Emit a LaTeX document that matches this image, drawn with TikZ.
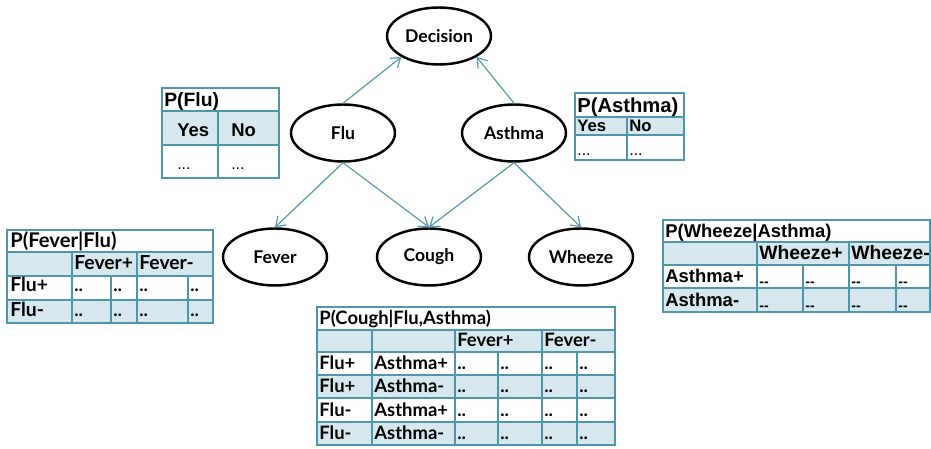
\documentclass[tikz,border=0pt]{standalone}
\usepackage{fontspec}
\setmainfont{Lato}
\newfontfamily\arialfont{Liberation Sans}
\usetikzlibrary{arrows.meta, shapes.geometric}
\definecolor{tabteal}{RGB}{78,150,170}
\definecolor{rowblue}{RGB}{214,232,238}
\definecolor{linkteal}{RGB}{90,155,178}

\begin{document}
\begin{tikzpicture}[x=0.02cm, y=-0.02cm, >={Straight Barb[length=5pt, width=7pt]},
  var/.style={draw, ellipse, line width=1.4pt, minimum width=2.08cm, minimum height=1.14cm,
              inner sep=0pt, font=\bfseries\fontsize{10}{12}\selectfont},
  link/.style={->, linkteal, line width=0.7pt},
  grid/.style={tabteal, line width=0.8pt},
  acell/.style={anchor=base west, inner sep=0pt, font=\arialfont\bfseries\fontsize{10.5}{12}\selectfont},
  gcell/.style={anchor=base west, inner sep=0pt, font=\bfseries\fontsize{10.5}{12}\selectfont}]
  \useasboundingbox (0,0) rectangle (931,449);
  % network
  \node[var] (decision) at (439,36) {Decision};
  \node[var] (flu) at (343,133) {Flu};
  \node[var] (asthma) at (514,133) {Asthma};
  \node[var] (fever) at (275,257) {Fever};
  \node[var] (cough) at (429,257) {Cough};
  \node[var] (wheeze) at (581,257) {Wheeze};
  \draw[link] (flu.north) -- (decision.south west);
  \draw[link] (asthma.north) -- (decision.south east);
  \draw[link] (flu.south) -- (fever.north);
  \draw[link] (flu.south) -- (cough.north);
  \draw[link] (asthma.south) -- (cough.north);
  \draw[link] (asthma.south) -- (wheeze.north);

  % P(Flu)
  \fill[rowblue] (162,111) rectangle (279,145);
  \draw[grid] (162,88) rectangle (279,178) (162,111) -- (279,111) (162,145) -- (279,145)
              (218,111) -- (218,178);
  \node[acell, font=\arialfont\bfseries\fontsize{11}{12}\selectfont] (flutitle) at (164,107) {P(Flu)};
  \node[acell, font=\arialfont\bfseries\fontsize{10.5}{12}\selectfont] (fluyes) at (177,137) {Yes};
  \node[acell, font=\arialfont\bfseries\fontsize{10.5}{12}\selectfont] (fluno) at (231,137) {No};
  \node[acell, font=\arialfont\fontsize{9}{12}\selectfont] (fluy) at (177,170) {...};
  \node[acell, font=\arialfont\fontsize{9}{12}\selectfont] (flun) at (231,170) {...};

  % P(Asthma)
  \fill[rowblue] (575,117) rectangle (684,135);
  \draw[grid] (575,93) rectangle (684,160) (575,117) -- (684,117) (575,135) -- (684,135)
              (627,117) -- (627,160);
  \node[acell, font=\arialfont\bfseries\fontsize{11.5}{12}\selectfont] (asttitle) at (577,113) {P(Asthma)};
  \node[acell, font=\arialfont\bfseries\fontsize{9.5}{10}\selectfont] (astyes) at (577,132) {Yes};
  \node[acell, font=\arialfont\bfseries\fontsize{9.5}{10}\selectfont] (astno) at (629,132) {No};
  \node[acell, font=\arialfont\fontsize{9}{10}\selectfont] (asty) at (577,156) {...};
  \node[acell, font=\arialfont\fontsize{9}{10}\selectfont] (astn) at (629,156) {...};

  % P(Fever|Flu)
  \fill[rowblue] (7,252) rectangle (213,276) (7,300) rectangle (213,323);
  \draw[grid] (7,230) rectangle (213,323);
  \foreach \y in {252,276,300} \draw[grid] (7,\y) -- (213,\y);
  \foreach \x in {72,137} \draw[grid] (\x,252) -- (\x,323);
  \foreach \x in {111,188} \draw[grid] (\x,276) -- (\x,323);
  \node[gcell, font=\bfseries\fontsize{11.5}{12}\selectfont] (fevtitle) at (10,248) {P(Fever|Flu)};
  \node[gcell, font=\bfseries\fontsize{11}{12}\selectfont] (fevpos) at (74,270) {Fever+};
  \node[gcell, font=\bfseries\fontsize{11}{12}\selectfont] (fevneg) at (139,270) {Fever-};
  \foreach \r/\lab/\y in {1/Flu+/292, 2/Flu-/317}{
    \node[gcell, font=\bfseries\fontsize{11}{12}\selectfont] (fevrow\r) at (10,\y) {\lab};
    \foreach \x [count=\c] in {74,113,139,190}
      \node[gcell] (fev\r\c) at (\x,\y) {..};
  }

  % P(Wheeze|Asthma)
  \fill[rowblue] (663,242) rectangle (931,265) (663,288) rectangle (931,312);
  \draw[grid] (931,220) -- (663,220) -- (663,312) -- (931,312);
  \draw[grid] (930,220) -- (930,312);
  \foreach \y in {242,265,288} \draw[grid] (663,\y) -- (931,\y);
  \foreach \x in {757,849} \draw[grid] (\x,242) -- (\x,312);
  \foreach \x in {803,896} \draw[grid] (\x,265) -- (\x,312);
  \node[acell] (whztitle) at (665,238) {P(Wheeze|Asthma)};
  \node[acell, font=\arialfont\bfseries\fontsize{11}{12}\selectfont] (whzpos) at (759,260) {Wheeze+};
  \node[acell, font=\arialfont\bfseries\fontsize{11}{12}\selectfont] (whzneg) at (851,260) {Wheeze-};
  \foreach \r/\lab/\y in {1/Asthma+/283, 2/Asthma-/307}{
    \node[acell] (whzrow\r) at (665,\y) {\lab};
    \foreach \x [count=\c] in {759,805,851,898}
      \node[acell, font=\arialfont\bfseries\fontsize{8}{10}\selectfont] (whz\r\c) at (\x,\y+4) {{-}{-}};
  }

  % P(Cough|Flu,Asthma)
  \fill[rowblue] (317,330) rectangle (615,352) (317,375) rectangle (615,398)
                 (317,422) rectangle (615,445);
  \draw[grid] (317,307) rectangle (615,445);
  \draw[grid, line width=1.3pt] (317,330) -- (615,330);
  \foreach \y in {352,375,398,422} \draw[grid] (317,\y) -- (615,\y);
  \foreach \x in {372,455,542} \draw[grid] (\x,330) -- (\x,445);
  \foreach \x in {498,577} \draw[grid] (\x,352) -- (\x,445);
  \node[gcell] (cghtitle) at (319,325) {P(Cough|Flu,Asthma)};
  \node[gcell] (cghpos) at (457,347) {Fever+};
  \node[gcell] (cghneg) at (544,347) {Fever-};
  \foreach \r/\fl/\as/\y in {1/Flu+/Asthma+/370, 2/Flu+/Asthma-/393, 3/Flu-/Asthma+/417, 4/Flu-/Asthma-/440}{
    \node[gcell] (cghflu\r) at (319,\y) {\fl};
    \node[gcell] (cghast\r) at (374,\y) {\as};
    \foreach \x [count=\c] in {457,500,544,579}
      \node[gcell] (cgh\r\c) at (\x,\y) {..};
  }
\end{tikzpicture}
\end{document}
